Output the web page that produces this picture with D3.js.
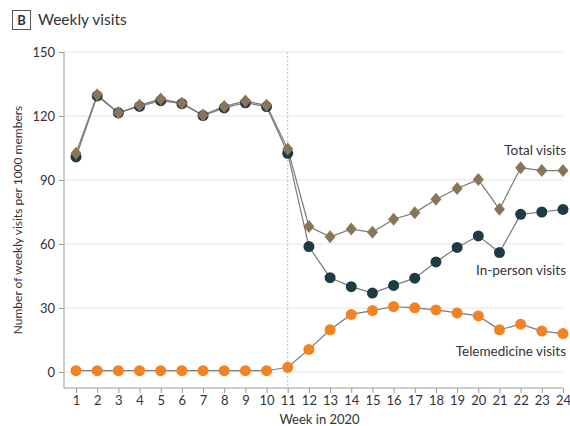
<!DOCTYPE html>
<html>
<head>
<meta charset="utf-8">
<script src="https://cdn.jsdelivr.net/npm/d3@7/dist/d3.min.js"></script>
<style>
  body { margin: 0; background: #fff; }
  svg text { font-family: Lato, "Open Sans", "Noto Sans", sans-serif; fill: #333; }
</style>
</head>
<body>
<svg id="chart" width="570" height="426"></svg>
<script>
// Weekly visits per 1000 members, weeks 1-24 of 2020
const weeks = d3.range(1, 25);
const totalVisits = [102.5, 130, 121.5, 125, 128, 126, 120.5, 124.5, 127, 125, 104.5,
  68.2, 63.4, 67, 65.5, 71.6, 74.6, 81, 86, 90.2, 76.3, 95.8, 94.4, 94.4];
const inPersonVisits = [100.8, 129.4, 121.5, 124.5, 127.2, 125.8, 120.2, 123.8, 126.2, 124.4, 102.5,
  58.8, 44.2, 40, 37, 40.6, 44, 51.6, 58.4, 63.8, 56, 73.9, 75, 76.2];
const telemedicineVisits = [0.6, 0.6, 0.6, 0.6, 0.6, 0.6, 0.6, 0.6, 0.6, 0.6, 2.2,
  10.6, 19.8, 27, 28.8, 30.7, 30.1, 29.1, 27.7, 26.3, 19.8, 22.4, 19.2, 18];
const yTicks = [0, 30, 60, 90, 120, 150];
const markWeek = 11;

const svg = d3.select("#chart");
const x = d3.scaleLinear().domain([1, 24]).range([76, 563]);
const y = d3.scaleLinear().domain([0, 150]).range([372, 52]);
const axisLeftX = 64, axisBottomY = 388;

// Title
svg.append("rect").attr("x", 12.5).attr("y", 10.5).attr("width", 18).attr("height", 19)
  .attr("fill", "#fff").attr("stroke", "#555").attr("stroke-width", 1);
svg.append("text").attr("x", 21.5).attr("y", 25).attr("text-anchor", "middle")
  .attr("font-size", 13).attr("font-weight", "bold").text("B");
svg.append("text").attr("x", 38).attr("y", 25).attr("font-size", 15.5).text("Weekly visits");

// Gridlines
svg.append("g").selectAll("line").data(yTicks).join("line")
  .attr("x1", axisLeftX).attr("x2", 563)
  .attr("y1", d => y(d)).attr("y2", d => y(d))
  .attr("stroke", "#e3e3e3").attr("stroke-width", 1);

// Y axis
const yAxis = svg.append("g").attr("transform", `translate(${axisLeftX},0)`)
  .call(d3.axisLeft(y).tickValues(yTicks).tickSize(5).tickPadding(4));
yAxis.select(".domain").attr("d", `M0,${y(150)}V${axisBottomY}`);
yAxis.selectAll(".domain, .tick line").attr("stroke", "#999");
yAxis.selectAll("text").attr("font-size", 13).attr("fill", "#333")
  .style("font-family", "Lato, sans-serif");

// X axis
const xAxis = svg.append("g").attr("transform", `translate(0,${axisBottomY})`)
  .call(d3.axisBottom(x).tickValues(weeks).tickSize(5).tickPadding(3).tickFormat(d3.format("d")));
xAxis.select(".domain").attr("d", `M${axisLeftX},0H563`);
xAxis.selectAll(".domain, .tick line").attr("stroke", "#999");
xAxis.selectAll("text").attr("font-size", 13).attr("fill", "#333")
  .style("font-family", "Lato, sans-serif");

// Axis titles
svg.append("text").attr("x", x(12.5)).attr("y", 424).attr("text-anchor", "middle")
  .attr("font-size", 13).text("Week in 2020");
svg.append("text").attr("transform", `translate(22,220) rotate(-90)`)
  .attr("text-anchor", "middle").attr("font-size", 12)
  .text("Number of weekly visits per 1000 members");

// Reference line at week 11
svg.append("line").attr("x1", x(markWeek)).attr("x2", x(markWeek))
  .attr("y1", y(150)).attr("y2", axisBottomY)
  .attr("stroke", "#7fd0ea").attr("stroke-width", 1).attr("stroke-dasharray", "2,2");

const line = d3.line().x((d, i) => x(weeks[i])).y(d => y(d));
const series = [
  { values: telemedicineVisits, color: "#f58220", shape: "circle" },
  { values: inPersonVisits, color: "#1d3b45", shape: "circle" },
  { values: totalVisits, color: "#8b7558", shape: "diamond" }
];

series.forEach(s => {
  svg.append("path").datum(s.values).attr("d", line)
    .attr("fill", "none").attr("stroke", "#7a7a7a").attr("stroke-width", 1.2);
});
series.forEach(s => {
  const g = svg.append("g");
  if (s.shape === "circle") {
    g.selectAll("circle").data(s.values).join("circle")
      .attr("cx", (d, i) => x(weeks[i])).attr("cy", d => y(d)).attr("r", 5.5)
      .attr("fill", s.color);
  } else {
    g.selectAll("path").data(s.values).join("path")
      .attr("transform", (d, i) => `translate(${x(weeks[i])},${y(d)})`)
      .attr("d", "M0,-6.5L5.5,0L0,6.5L-5.5,0Z")
      .attr("fill", s.color);
  }
});

// Series labels
const labels = [
  { text: "Total visits", y: 155 },
  { text: "In-person visits", y: 275 },
  { text: "Telemedicine visits", y: 356 }
];
svg.append("g").selectAll("text").data(labels).join("text")
  .attr("x", 566).attr("y", d => d.y).attr("text-anchor", "end")
  .attr("font-size", 13.5).text(d => d.text);
</script>
</body>
</html>
